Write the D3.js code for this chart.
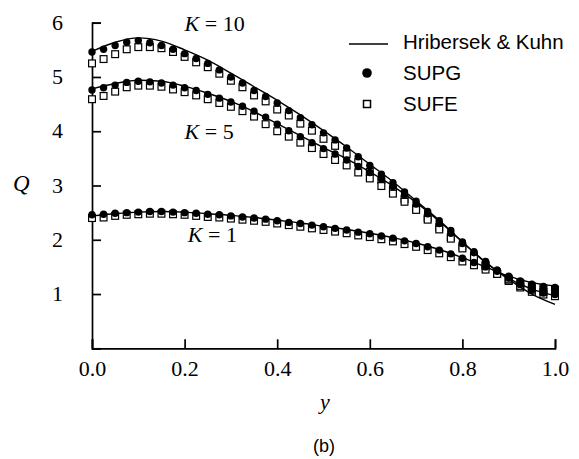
<!DOCTYPE html>
<html lang="en">
<head>
<meta charset="UTF-8">
<title>Q vs y</title>
<script src="https://d3js.org/d3.v7.min.js"></script>
<style>
  body { margin: 0; background: #fff; }
  .serif { font-family: "Liberation Serif", "Times New Roman", serif; }
  .sans { font-family: "Liberation Sans", Arial, sans-serif; }
</style>
</head>
<body>
<div id="chart"></div>
<script>
// marker positions (y)
var yPts = [0, 0.025, 0.05, 0.075, 0.1, 0.125, 0.15, 0.175, 0.2, 0.225, 0.25, 0.275, 0.3, 0.325, 0.35, 0.375,
  0.4, 0.425, 0.45, 0.475, 0.5, 0.525, 0.55, 0.575, 0.6, 0.625, 0.65, 0.675, 0.7, 0.725, 0.75, 0.775,
  0.8, 0.825, 0.85, 0.875, 0.9, 0.925, 0.95, 0.975, 1.0];

// SUPG (filled circles)
var supgK10 = [5.46, 5.51, 5.58, 5.64, 5.67, 5.63, 5.58, 5.51, 5.43, 5.34, 5.25, 5.13, 5.00, 4.89, 4.75, 4.64,
  4.52, 4.38, 4.25, 4.12, 3.97, 3.84, 3.69, 3.53, 3.37, 3.21, 3.05, 2.88, 2.71, 2.52, 2.35, 2.17,
  1.96, 1.78, 1.60, 1.44, 1.30, 1.18, 1.08, 1.02, 0.99];
var supgK5 = [4.76, 4.80, 4.85, 4.90, 4.92, 4.91, 4.89, 4.85, 4.80, 4.75, 4.68, 4.61, 4.54, 4.46, 4.37, 4.26,
  4.13, 4.01, 3.90, 3.79, 3.68, 3.58, 3.47, 3.35, 3.24, 3.12, 2.98, 2.83, 2.66, 2.48, 2.30, 2.12,
  1.93, 1.76, 1.59, 1.44, 1.30, 1.18, 1.10, 1.06, 1.05];
var supgK1 = [2.46, 2.47, 2.49, 2.50, 2.51, 2.52, 2.52, 2.51, 2.50, 2.49, 2.47, 2.46, 2.44, 2.42, 2.40, 2.38,
  2.35, 2.32, 2.30, 2.27, 2.24, 2.21, 2.18, 2.14, 2.11, 2.07, 2.03, 1.98, 1.93, 1.87, 1.81, 1.74,
  1.66, 1.58, 1.50, 1.42, 1.33, 1.24, 1.18, 1.14, 1.12];

// SUFE (open squares)
var sufeK10 = [5.25, 5.33, 5.42, 5.51, 5.55, 5.55, 5.53, 5.46, 5.37, 5.27, 5.18, 5.06, 4.93, 4.81, 4.66, 4.55,
  4.40, 4.29, 4.14, 4.01, 3.86, 3.73, 3.58, 3.43, 3.25, 3.10, 2.93, 2.75, 2.58, 2.40, 2.23, 2.05,
  1.88, 1.70, 1.53, 1.38, 1.24, 1.12, 1.04, 0.99, 0.96];
var sufeK5 = [4.59, 4.65, 4.73, 4.81, 4.84, 4.84, 4.82, 4.77, 4.72, 4.66, 4.59, 4.52, 4.45, 4.37, 4.27, 4.13,
  4.00, 3.90, 3.79, 3.69, 3.58, 3.47, 3.37, 3.24, 3.13, 2.99, 2.85, 2.70, 2.55, 2.37, 2.19, 2.02,
  1.84, 1.67, 1.51, 1.37, 1.25, 1.15, 1.08, 1.04, 1.02];
var sufeK1 = [2.40, 2.41, 2.44, 2.46, 2.47, 2.48, 2.48, 2.47, 2.46, 2.44, 2.42, 2.41, 2.39, 2.37, 2.35, 2.33,
  2.30, 2.27, 2.24, 2.21, 2.18, 2.15, 2.12, 2.08, 2.05, 2.01, 1.97, 1.92, 1.87, 1.81, 1.75, 1.68,
  1.60, 1.53, 1.45, 1.37, 1.28, 1.20, 1.14, 1.10, 1.08];

// Hribersek & Kuhn (solid lines)
var yLine = [0, 0.05, 0.1, 0.15, 0.2, 0.25, 0.3, 0.35, 0.4, 0.45, 0.5, 0.55, 0.6, 0.65, 0.7, 0.75, 0.8, 0.85, 0.9, 0.95, 1.0];
var hkK10 = [5.47, 5.64, 5.72, 5.66, 5.50, 5.31, 5.07, 4.82, 4.57, 4.30, 4.01, 3.71, 3.39, 3.07, 2.72, 2.36, 1.96, 1.58, 1.27, 1.00, 0.81];
var hkK5 = [4.78, 4.88, 4.94, 4.92, 4.83, 4.70, 4.55, 4.36, 4.14, 3.92, 3.70, 3.49, 3.25, 2.99, 2.69, 2.34, 1.96, 1.59, 1.29, 1.09, 0.97];
var hkK1 = [2.44, 2.48, 2.51, 2.52, 2.51, 2.48, 2.45, 2.41, 2.36, 2.31, 2.25, 2.19, 2.12, 2.04, 1.94, 1.82, 1.67, 1.50, 1.33, 1.21, 1.15];

var xTicks = [0, 0.2, 0.4, 0.6, 0.8, 1.0];
var yTicks = [0, 1, 2, 3, 4, 5, 6];
var curveLabels = [{ k: "10", y: 0.2, q: 5.85 }, { k: "5", y: 0.2, q: 3.85 }, { k: "1", y: 0.207, q: 1.96 }];

var W = 579, H = 459;
var svg = d3.select("#chart").append("svg").attr("width", W).attr("height", H);

var x = d3.scaleLinear().domain([0, 1]).range([92, 555]);
var y = d3.scaleLinear().domain([0, 6]).range([348.3, 22.7]);

// axes
var gx = svg.append("g").attr("transform", "translate(0," + y(0) + ")")
  .call(d3.axisBottom(x).tickValues(xTicks).tickSize(-9).tickPadding(13).tickFormat(d3.format(".1f")));
var gy = svg.append("g").attr("transform", "translate(" + x(0) + ",0)")
  .call(d3.axisLeft(y).tickValues(yTicks).tickSize(-9).tickPadding(29).tickFormat(function (d) { return d === 0 ? "" : d; }));

[gx, gy].forEach(function (g) {
  g.select(".domain").attr("stroke", "#000").attr("stroke-width", 1.7);
  g.selectAll(".tick line").attr("stroke", "#000").attr("stroke-width", 1.7);
  g.selectAll(".tick text").attr("class", "serif").attr("font-size", 22).attr("fill", "#000");
});
gx.selectAll(".tick text").attr("dy", "0.68em");
gy.selectAll(".tick text").attr("dy", "0.3em");

// axis titles
svg.append("text").attr("class", "serif").attr("x", 13).attr("y", 191)
  .attr("font-size", 23).attr("font-style", "italic").text("Q");
svg.append("text").attr("class", "serif").attr("x", 325).attr("y", 409)
  .attr("text-anchor", "middle").attr("font-size", 22).attr("font-style", "italic").text("y");
svg.append("text").attr("class", "sans").attr("x", 324).attr("y", 452)
  .attr("text-anchor", "middle").attr("font-size", 18).text("(b)");

// markers
var sufe = [sufeK10, sufeK5, sufeK1];
var supg = [supgK10, supgK5, supgK1];
var hk = [hkK10, hkK5, hkK1];

sufe.forEach(function (s) {
  svg.append("g").selectAll("rect").data(s).enter().append("rect")
    .attr("x", function (d, i) { return x(yPts[i]) - 3.4; })
    .attr("y", function (d) { return y(d) - 3.4; })
    .attr("width", 6.8).attr("height", 6.8)
    .attr("fill", "#fff").attr("stroke", "#000").attr("stroke-width", 1.2);
});

supg.forEach(function (s) {
  svg.append("g").selectAll("circle").data(s).enter().append("circle")
    .attr("cx", function (d, i) { return x(yPts[i]); })
    .attr("cy", function (d) { return y(d); })
    .attr("r", 3.7).attr("fill", "#000");
});

var line = d3.line()
  .x(function (d, i) { return x(yLine[i]); })
  .y(function (d) { return y(d); })
  .curve(d3.curveMonotoneX);

hk.forEach(function (s) {
  svg.append("path").datum(s).attr("d", line)
    .attr("fill", "none").attr("stroke", "#000").attr("stroke-width", 1.4);
});

// curve labels
curveLabels.forEach(function (c) {
  var t = svg.append("text").attr("class", "serif").attr("font-size", 22)
    .attr("x", x(c.y)).attr("y", y(c.q));
  t.append("tspan").attr("font-style", "italic").text("K");
  t.append("tspan").text(" = " + c.k);
});

// legend
var lg = svg.append("g").attr("class", "sans");
lg.append("line").attr("x1", 349).attr("x2", 388).attr("y1", 44).attr("y2", 44)
  .attr("stroke", "#000").attr("stroke-width", 1.5);
lg.append("circle").attr("cx", 367).attr("cy", 73).attr("r", 4.8).attr("fill", "#000");
lg.append("rect").attr("x", 363.5).attr("y", 100.5).attr("width", 7).attr("height", 7)
  .attr("fill", "#fff").attr("stroke", "#000").attr("stroke-width", 1.5);
var legendNames = ["Hribersek & Kuhn", "SUPG", "SUFE"];
var legendBase = [49, 80, 111];
lg.selectAll("text").data(legendNames).enter().append("text")
  .attr("x", 403).attr("y", function (d, i) { return legendBase[i]; })
  .attr("font-size", 20.5).attr("fill", "#000").text(function (d) { return d; });
</script>
</body>
</html>
